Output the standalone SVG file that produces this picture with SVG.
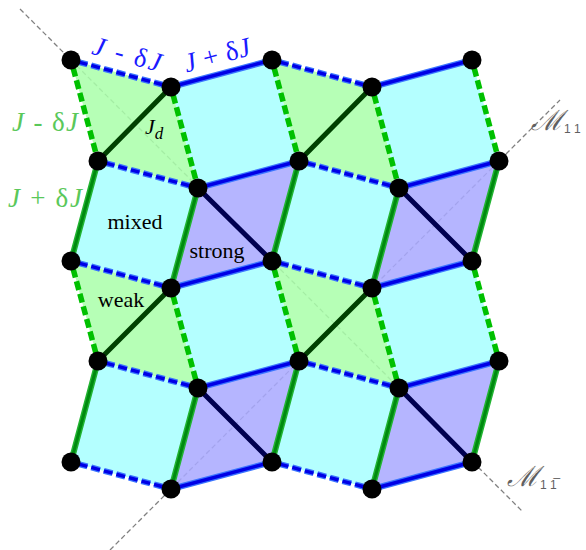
<svg xmlns="http://www.w3.org/2000/svg" width="586" height="550" viewBox="0 0 586 550">
<style>
.mir{fill:none;stroke:#808080;stroke-width:1.3;stroke-dasharray:5 3}
.pl{fill-opacity:0.86;stroke:none}
.mix{fill:#a8ffff}
.weak{fill:#aaffaa}
.str{fill:#a9a9ff}
.jdw{fill:none;stroke:#004000;stroke-width:5;stroke-linecap:round}
.jds{fill:none;stroke:#000050;stroke-width:5;stroke-linecap:round}
.bs{fill:none;stroke:#3a74ff;stroke-width:6}
.bsi{fill:none;stroke:#0000e6;stroke-width:3.4}
.bd{fill:none;stroke:#3a74ff;stroke-width:6;stroke-dasharray:9 4;stroke-dashoffset:-8}
.bdi{fill:none;stroke:#0000e6;stroke-width:3.4;stroke-dasharray:9 4;stroke-dashoffset:-8}
.gs{fill:none;stroke:#22b432;stroke-width:6}
.gsi{fill:none;stroke:#008a10;stroke-width:3}
.gd{fill:none;stroke:#00c000;stroke-width:5.5;stroke-dasharray:9 4;stroke-dashoffset:-8}
.nd{fill:#000}
.lbl{font-family:"Liberation Serif",serif;font-size:22px;fill:#000}
.jb{font-family:"Liberation Serif",serif;font-size:27px;fill:#1a1aff}
.jg{font-family:"Liberation Serif",serif;font-size:27px;fill:#5ac85a}
.mt{font-family:"DejaVu Serif","Liberation Serif",serif;font-size:28px;fill:#606060;font-style:italic}
.ms{font-family:"Liberation Sans",sans-serif;font-size:12px;fill:#606060}
</style>

<g id="mirrors">
<line class="mir" x1="20" y1="9" x2="523" y2="512"/>
<line class="mir" x1="110" y1="550" x2="560" y2="100"/>
</g>

<g id="plaquettes">
<polygon id="p00" class="pl weak" points="71,60 171,87 198,188 98,161"/>
<polygon id="p01" class="pl mix" points="171,87 272,60 299,161 198,188"/>
<polygon id="p02" class="pl weak" points="272,60 372,87 399,188 299,161"/>
<polygon id="p03" class="pl mix" points="372,87 472,60 499,161 399,188"/>
<polygon id="p10" class="pl mix" points="98,161 198,188 171,288 71,261"/>
<polygon id="p11" class="pl str" points="198,188 299,161 272,261 171,288"/>
<polygon id="p12" class="pl mix" points="299,161 399,188 372,288 272,261"/>
<polygon id="p13" class="pl str" points="399,188 499,161 472,261 372,288"/>
<polygon id="p20" class="pl weak" points="71,261 171,288 198,388 98,361"/>
<polygon id="p21" class="pl mix" points="171,288 272,261 299,361 198,388"/>
<polygon id="p22" class="pl weak" points="272,261 372,288 399,388 299,361"/>
<polygon id="p23" class="pl mix" points="372,288 472,261 499,361 399,388"/>
<polygon id="p30" class="pl mix" points="98,361 198,388 171,489 71,462"/>
<polygon id="p31" class="pl str" points="198,388 299,361 272,462 171,489"/>
<polygon id="p32" class="pl mix" points="299,361 399,388 372,489 272,462"/>
<polygon id="p33" class="pl str" points="399,388 499,361 472,462 372,489"/>
</g>

<g id="connectors">
<path class="jdw" d="M171,87L98,161M372,87L299,161M171,288L98,361M372,288L299,361"/>
<path class="jds" d="M198,188L272,261M399,188L472,261M198,388L272,462M399,388L472,462"/>
<path class="bd" d="M71,60L171,87M272,60L372,87M98,161L198,188M299,161L399,188M71,261L171,288M272,261L372,288M98,361L198,388M299,361L399,388M71,462L171,489M272,462L372,489"/>
<path class="bdi" d="M71,60L171,87M272,60L372,87M98,161L198,188M299,161L399,188M71,261L171,288M272,261L372,288M98,361L198,388M299,361L399,388M71,462L171,489M272,462L372,489"/>
<path class="bs" d="M171,87L272,60M372,87L472,60M198,188L299,161M399,188L499,161M171,288L272,261M372,288L472,261M198,388L299,361M399,388L499,361M171,489L272,462M372,489L472,462"/>
<path class="bsi" d="M171,87L272,60M372,87L472,60M198,188L299,161M399,188L499,161M171,288L272,261M372,288L472,261M198,388L299,361M399,388L499,361M171,489L272,462M372,489L472,462"/>
<path class="gd" d="M71,60L98,161M171,87L198,188M272,60L299,161M372,87L399,188M472,60L499,161M71,261L98,361M171,288L198,388M272,261L299,361M372,288L399,388M472,261L499,361"/>
<path class="gs" d="M98,161L71,261M198,188L171,288M299,161L272,261M399,188L372,288M499,161L472,261M98,361L71,462M198,388L171,489M299,361L272,462M399,388L372,489M499,361L472,462"/>
<path class="gsi" d="M98,161L71,261M198,188L171,288M299,161L272,261M399,188L372,288M499,161L472,261M98,361L71,462M198,388L171,489M299,361L272,462M399,388L372,489M499,361L472,462"/>
</g>

<g id="nodes">
<g id="n00"><circle class="nd" cx="71" cy="60" r="9.5"/></g>
<g id="n01"><circle class="nd" cx="171" cy="87" r="9.5"/></g>
<g id="n02"><circle class="nd" cx="272" cy="60" r="9.5"/></g>
<g id="n03"><circle class="nd" cx="372" cy="87" r="9.5"/></g>
<g id="n04"><circle class="nd" cx="472" cy="60" r="9.5"/></g>
<g id="n10"><circle class="nd" cx="98" cy="161" r="9.5"/></g>
<g id="n11"><circle class="nd" cx="198" cy="188" r="9.5"/></g>
<g id="n12"><circle class="nd" cx="299" cy="161" r="9.5"/></g>
<g id="n13"><circle class="nd" cx="399" cy="188" r="9.5"/></g>
<g id="n14"><circle class="nd" cx="499" cy="161" r="9.5"/></g>
<g id="n20"><circle class="nd" cx="71" cy="261" r="9.5"/></g>
<g id="n21"><circle class="nd" cx="171" cy="288" r="9.5"/></g>
<g id="n22"><circle class="nd" cx="272" cy="261" r="9.5"/></g>
<g id="n23"><circle class="nd" cx="372" cy="288" r="9.5"/></g>
<g id="n24"><circle class="nd" cx="472" cy="261" r="9.5"/></g>
<g id="n30"><circle class="nd" cx="98" cy="361" r="9.5"/></g>
<g id="n31"><circle class="nd" cx="198" cy="388" r="9.5"/></g>
<g id="n32"><circle class="nd" cx="299" cy="361" r="9.5"/></g>
<g id="n33"><circle class="nd" cx="399" cy="388" r="9.5"/></g>
<g id="n34"><circle class="nd" cx="499" cy="361" r="9.5"/></g>
<g id="n40"><circle class="nd" cx="71" cy="462" r="9.5"/></g>
<g id="n41"><circle class="nd" cx="171" cy="489" r="9.5"/></g>
<g id="n42"><circle class="nd" cx="272" cy="462" r="9.5"/></g>
<g id="n43"><circle class="nd" cx="372" cy="489" r="9.5"/></g>
<g id="n44"><circle class="nd" cx="472" cy="462" r="9.5"/></g>
</g>

<g id="labels">
<text class="jb" transform="translate(127,54) rotate(15)" x="0" y="9" text-anchor="middle" textLength="70" lengthAdjust="spacing"><tspan font-style="italic">J</tspan> - δ<tspan font-style="italic">J</tspan></text>
<text class="jb" transform="translate(217,55) rotate(-15)" x="0" y="9" text-anchor="middle" textLength="68" lengthAdjust="spacing"><tspan font-style="italic">J</tspan> + δ<tspan font-style="italic">J</tspan></text>
<text class="jg" x="12" y="131" textLength="66" lengthAdjust="spacing"><tspan font-style="italic">J</tspan> - δ<tspan font-style="italic">J</tspan></text>
<text class="jg" x="8" y="207" textLength="74" lengthAdjust="spacing"><tspan font-style="italic">J</tspan> + δ<tspan font-style="italic">J</tspan></text>
<text class="lbl" x="145" y="134" font-size="26" font-style="italic">J<tspan font-size="17" dy="5">d</tspan></text>
<text class="lbl" x="135" y="229" text-anchor="middle">mixed</text>
<text class="lbl" x="217" y="258" text-anchor="middle">strong</text>
<text class="lbl" x="121" y="307" text-anchor="middle">weak</text>
<text class="mt" x="531" y="130">ℳ<tspan class="ms" font-style="normal" dy="3" dx="1">1 1</tspan></text>
<text class="mt" x="507" y="486">ℳ<tspan class="ms" font-style="normal" dy="3" dx="1">1 1̅</tspan></text>
</g>
</svg>
